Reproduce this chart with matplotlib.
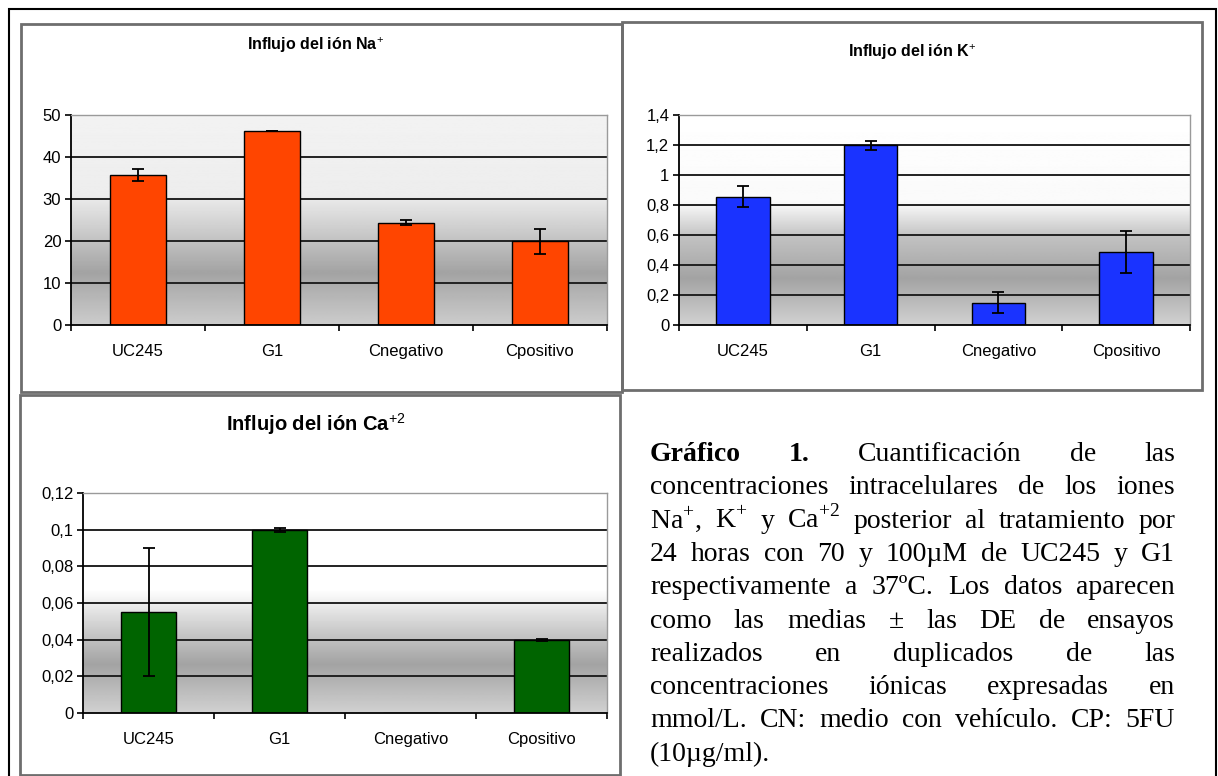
import numpy as np
import matplotlib
matplotlib.use('Agg')
import matplotlib.pyplot as plt
from matplotlib.patches import Rectangle

plt.rcParams['font.family'] = ['Liberation Sans', 'DejaVu Sans']
plt.rcParams['mathtext.fontset'] = 'custom'
plt.rcParams['mathtext.rm'] = 'Liberation Serif'
plt.rcParams['mathtext.sf'] = 'Liberation Sans'
plt.rcParams['mathtext.bf'] = 'Liberation Serif:bold'

# data
categorias = ['UC245', 'G1', 'Cnegativo', 'Cpositivo']

na_vals = [35.7, 46.2, 24.4, 19.9]
na_err = [1.5, 0.0, 0.6, 2.9]
na_ticks = [0, 10, 20, 30, 40, 50]
na_ticklabels = ['0', '10', '20', '30', '40', '50']

k_vals = [0.855, 1.20, 0.15, 0.49]
k_err = [0.07, 0.03, 0.07, 0.14]
k_ticks = [0, 0.2, 0.4, 0.6, 0.8, 1.0, 1.2, 1.4]
k_ticklabels = ['0', '0,2', '0,4', '0,6', '0,8', '1', '1,2', '1,4']

ca_vals = [0.055, 0.100, 0.0, 0.040]
ca_err = [0.035, 0.001, np.nan, 0.0005]
ca_ticks = [0, 0.02, 0.04, 0.06, 0.08, 0.10, 0.12]
ca_ticklabels = ['0', '0,02', '0,04', '0,06', '0,08', '0,1', '0,12']

W, H = 1218, 776
fig = plt.figure(figsize=(W / 100, H / 100), dpi=100)


def box(l, t, r, b):
    return [l / W, 1 - b / H, (r - l) / W, (b - t) / H]


def frame(l, t, r, b, color, lw):
    fig.patches.append(Rectangle((l / W, 1 - b / H), (r - l) / W, (b - t) / H,
                                 transform=fig.transFigure, fill=False,
                                 edgecolor=color, linewidth=lw))


def panel(rect, vals, err, ticks, ticklabels, color, stops, title, title_xy, title_size):
    ax = fig.add_axes(box(*rect))
    x = np.arange(len(categorias))
    f, g = stops
    yy = np.linspace(0, 1, 256)
    grad = np.interp(yy, f, g)[::-1].reshape(-1, 1)
    ax.imshow(grad, cmap='gray', vmin=0, vmax=1, aspect='auto',
              extent=[0, 1, 0, 1], transform=ax.transAxes, zorder=0)
    for t in ticks[1:]:
        ax.axhline(t, color='#222222', lw=1.4, zorder=1)
    ax.bar(x, vals, width=0.42, color=color, edgecolor='black', lw=1, zorder=2)
    ax.errorbar(x, vals, yerr=err, fmt='none', ecolor='black', elinewidth=1.3,
                capsize=4, capthick=1.3, zorder=3)
    ax.set_xlim(-0.5, 3.5)
    ax.set_ylim(0, ticks[-1])
    ax.set_yticks(ticks)
    ax.set_yticklabels(ticklabels)
    ax.set_xticks(x)
    ax.set_xticklabels(categorias)
    ax.set_xticks(np.arange(-0.5, 4, 1), minor=True)
    ax.tick_params(axis='x', which='major', length=0, pad=14, labelsize=12)
    ax.tick_params(axis='x', which='minor', length=4, width=1.2, direction='out')
    ax.tick_params(axis='y', length=4, width=1.2, labelsize=12, pad=3)
    for s in ['top', 'right']:
        ax.spines[s].set_color('#9a9a9a')
        ax.spines[s].set_linewidth(1)
    for s in ['left', 'bottom']:
        ax.spines[s].set_color('black')
        ax.spines[s].set_linewidth(1.3)
    fig.text(title_xy[0] / W, 1 - title_xy[1] / H, title, ha='center', va='center',
             fontsize=title_size, fontweight='bold')
    return ax


# outer frame and panel frames
frame(9, 9, 1216, 790, 'black', 1.5)
frame(21, 24, 622, 392, '#6e6e6e', 2)
frame(622, 22, 1202, 390, '#6e6e6e', 2)
frame(20, 395, 620, 775, '#6e6e6e', 2)

panel((71, 115, 607, 325), na_vals, na_err, na_ticks, na_ticklabels, '#ff4500',
      ([0, 0.25, 0.45, 0.62, 1], [0.80, 0.64, 0.80, 0.93, 0.95]),
      r'Influjo del ión Na$^{\mathsf{+}}$', (315, 45), 11.5)
panel((679, 115, 1190, 325), k_vals, k_err, k_ticks, k_ticklabels, '#1a33ff',
      ([0, 0.22, 0.42, 0.58, 1], [0.82, 0.64, 0.76, 0.98, 1.0]),
      r'Influjo del ión K$^{\mathsf{+}}$', (912, 52), 11.5)
panel((83, 493, 607, 713), ca_vals, ca_err, ca_ticks, ca_ticklabels, '#006400',
      ([0, 0.22, 0.38, 0.56, 1], [0.82, 0.64, 0.80, 1.0, 1.0]),
      r'Influjo del ión Ca$^{\mathsf{+2}}$', (316, 424), 14.5)

# caption, justified
caption = [
    [('Gráfico', True), ('1.', True), ('Cuantificación', False), ('de', False), ('las', False)],
    'concentraciones intracelulares de los iones',
    r'Na$^{+}$, K$^{+}$ y Ca$^{+2}$ posterior al tratamiento por',
    '24 horas con 70 y 100µM de UC245 y G1',
    'respectivamente a 37ºC. Los datos aparecen',
    'como las medias ± las DE de ensayos',
    'realizados en duplicados de las',
    'concentraciones iónicas expresadas en',
    'mmol/L. CN: medio con vehículo. CP: 5FU',
    '(10µg/ml).',
]
left, right = 650, 1175
y0, dy = 461, 33.3
fs = 20
renderer = fig.canvas.get_renderer()
for i, line in enumerate(caption):
    if isinstance(line, str):
        words = [(w, False) for w in line.split(' ')]
    else:
        words = line
    texts = []
    for w, bold in words:
        t = fig.text(0, 1 - (y0 + i * dy) / H, w, family='Liberation Serif',
                     fontsize=fs, fontweight='bold' if bold else 'normal',
                     ha='left', va='baseline')
        texts.append(t)
    widths = [t.get_window_extent(renderer).width for t in texts]
    if i == len(caption) - 1:
        gap = 6
    else:
        gap = (right - left - sum(widths)) / (len(texts) - 1)
    xpos = left
    for t, wd in zip(texts, widths):
        t.set_x(xpos / W)
        xpos += wd + gap

fig.savefig('out.png', dpi=100)
